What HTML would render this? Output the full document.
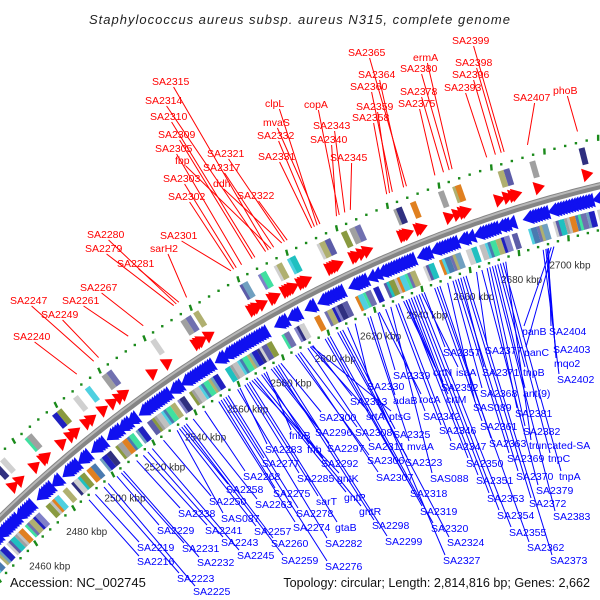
<!DOCTYPE html>
<html><head><meta charset="utf-8">
<style>
html,body{margin:0;padding:0;background:#fff;width:600px;height:600px;overflow:hidden;}
svg{display:block;overflow:hidden;}
text{font-family:"Liberation Sans",sans-serif;}
</style></head>
<body>
<svg id="map" width="600" height="600" viewBox="0 0 600 600" xmlns="http://www.w3.org/2000/svg">
<rect width="600" height="600" fill="#fff"/>
<text x="300" y="24" text-anchor="middle" font-size="13" font-style="italic" letter-spacing="1" fill="#222">Staphylococcus aureus subsp. aureus N315, complete genome</text>
<g id="rings"></g>
<g id="lines"></g>
<g id="labels"></g>
<text x="10" y="587" font-size="13" fill="#111">Accession: NC_002745</text>
<text x="590" y="587" text-anchor="end" font-size="12.6" fill="#111">Topology: circular; Length: 2,814,816 bp; Genes: 2,662</text>
</svg>
<script>
// ---- data ----
var kbpTicks = [2460,2480,2500,2520,2540,2560,2580,2600,2620,2640,2660,2680,2700];
var forwardGenes = [2200,2203,2210,2214,2215,2222,2226,2228,2233,2235,2240,2244,2247,2249,2261,2267,2279,2280,2281,2284,2301,2302,2303,2305,2309,2310,2314,2315,2316,2317,2320,2321,2322,2331,2332,2333,2334,2340,2341,2343,2345,2358,2359,2360,2364,2365,2375,2378,2380,2381,2393,2396,2398,2399,2407,2424];
var reverseGenes = [2171,2172,2173,2174,2175,2176,2177,2178,2180,2181,2182,2183,2185,2186,2187,2188,2189,2190,2191,2192,2194,2195,2196,2197,2198,2199,2204,2205,2206,2207,2208,2211,2212,2216,2217,2218,2219,2220,2223,2224,2225,2229,2230,2231,2232,2236,2237,2238,2239,2241,2242,2243,2245,2246,2250,2251,2252,2253,2254,2255,2256,2257,2258,2259,2260,2263,2264,2265,2268,2269,2270,2271,2272,2273,2274,2275,2276,2277,2278,2282,2283,2285,2286,2287,2288,2289,2290,2291,2292,2293,2294,2295,2296,2297,2298,2299,2300,2306,2307,2308,2311,2312,2313,2318,2319,2323,2324,2325,2326,2327,2328,2329,2330,2335,2336,2337,2338,2339,2342,2344,2346,2347,2348,2349,2350,2351,2352,2353,2354,2355,2356,2357,2361,2362,2363,2366,2367,2368,2369,2370,2371,2372,2373,2376,2377,2379,2382,2383,2384,2385,2386,2387,2388,2390,2391,2392,2394,2400,2401,2402,2403,2404,2405,2406,2409,2410,2411,2412,2413,2414,2415,2416,2417,2418,2419,2420,2421,2422,2425,2426,2427,2428,2429,2430,2431,2432,2433,2434,2435,2436,2437,2438];
var redNames = ["SA2399","SA2365","ermA","SA2398","SA2364","SA2380","SA2396","SA2360","SA2378","SA2393","SA2407","phoB","SA2375","SA2359","SA2358","copA","clpL","SA2343","SA2315","SA2314","mvaS","SA2332","SA2340","SA2310","SA2309","SA2305","SA2321","SA2331","SA2345","fbp","SA2317","ddh","SA2303","SA2302","SA2322","SA2280","SA2301","SA2279","sarH2","SA2281","SA2267","SA2247","SA2261","SA2249","SA2240"];
var redIdx = [2399,2365,2381,2398,2364,2380,2396,2360,2378,2393,2407,2424,2375,2359,2358,2341,2333,2343,2315,2314,2334,2332,2340,2310,2309,2305,2321,2331,2345,2316,2317,2320,2303,2302,2322,2280,2301,2279,2284,2281,2267,2247,2261,2249,2240];
var redLabelX = [452,348,413,455,358,400,452,350,400,444,513,553,398,356,352,304,265,313,152,145,263,257,310,150,158,155,207,258,330,175,203,213,163,168,237,87,160,85,150,117,80,10,62,41,13];
var redLabelY = [40,52,57,62,74,68,74,86,91,87,97,90,103,106,117,104,103,125,81,100,122,135,139,116,134,148,153,156,157,160,167,183,178,196,195,234,235,248,248,263,287,300,300,314,336];
var blueNames = ["panB","SA2404","panC","SA2403","mqo2","SA2402","SA2357","SA2377","SA2339","crtN","isaA","SA2371","tnpB","SA2330","SA2352","SA2368","ant(9)","SA2313","adaB","rocA","crtM","SAS089","SA2381","SA2300","srtA","ptsG","SA2342","SA2361","SA2382","SA2346","SA2296","SA2308","SA2325","SA2363","truncated-SA","fnbB","SA2283","fnb","SA2297","SA2311","mvaA","SA2347","SA2277","SA2292","SA2306","SA2323","SA2350","SA2369","tnpC","SA2268","SA2285","gntK","SA2307","SAS088","SA2351","SA2370","tnpA","SA2258","SA2275","sarT","gntP","SA2318","SA2353","SA2379","SA2372","SA2250","SA2263","SA2278","gntR","SA2319","SA2354","SA2383","SA2238","SAS087","SA2274","gtaB","SA2298","SA2320","SA2355","SA2229","SA2241","SA2257","SA2282","SA2299","SA2324","SA2362","SA2373","SA2219","SA2231","SA2243","SA2260","SA2216","SA2232","SA2245","SA2259","SA2276","SA2327","SA2223","SA2225"];
var blueIdx = [2405,2404,2406,2403,2403.5,2402,2357,2377,2339,2350,2356,2371,2385,2330,2352,2368,2384,2313,2336,2339.5,2349,2366,2381,2300,2312,2312.5,2342,2361,2382,2346,2296,2308,2325,2363,2388,2294,2283,2293,2297,2311,2335,2347,2277,2292,2306,2323,2350,2369,2386,2268,2285,2288,2307,2344,2351,2370,2387,2258,2275,2286,2289,2318,2353,2379,2372,2250,2263,2278,2290,2319,2354,2383,2238,2256,2274,2287,2298,2320,2355,2229,2241,2257,2282,2299,2324,2362,2373,2219,2231,2243,2260,2216,2232,2245,2259,2276,2327,2223,2225];
var blueLabelX = [522,549,524,553,554,557,443,485,393,433,456,482,523,367,441,480,523,350,393,419,446,473,515,319,366,389,423,480,523,439,315,355,393,489,529,289,265,307,327,368,407,449,262,321,367,405,466,507,548,243,297,337,376,430,476,516,559,226,273,316,344,410,487,536,529,209,255,296,359,420,497,553,178,221,293,335,372,431,509,157,205,254,325,385,447,527,550,137,182,221,271,137,197,237,281,325,443,177,193];
var blueLabelY = [331,331,352,349,363,379,352,350,375,372,372,372,372,386,387,393,393,401,400,399,399,407,413,417,416,416,416,426,431,430,432,432,434,443,445,435,449,449,448,446,446,446,463,463,460,462,463,458,458,476,478,478,477,478,480,476,476,489,493,501,497,493,498,490,503,501,504,513,511,511,515,516,513,518,527,527,525,528,532,530,530,531,543,541,542,547,560,547,548,542,543,561,562,555,560,566,560,578,591];

// ---- geometry ----
var CX = 901, CY = 1437;
function idxToKbp(i){ return 2515 + (i - 2240) * 1.09; }
function ang(k){ return (-134.34 + (k - 2460) * 0.11904) * Math.PI / 180; }
function pt(k, r){ var a = ang(k); return [CX + r * Math.cos(a), CY + r * Math.sin(a)]; }
var NS = "http://www.w3.org/2000/svg";
function mk(tag, parent, attrs){ var e = document.createElementNS(NS, tag); for (var k in attrs) e.setAttribute(k, attrs[k]); parent.appendChild(e); return e; }
function poly(pts){ return pts.map(function(p){ return p[0].toFixed(1) + "," + p[1].toFixed(1); }).join(" "); }

var rings = document.getElementById("rings");
var linesG = document.getElementById("lines");
var labelsG = document.getElementById("labels");
var palette = ["#4fd0e0","#a0a0a0","#5c5ca8","#8080c8","#b0b070","#4a7ab0","#c0c0c0","#20c0c0","#303080","#70a0c0","#40e0a0","#e08020","#8a9a40","#d0d0d0","#2020c0","#7070b0"];

// dotted rings
[1334, 1244].forEach(function(r){
  for (var k = 2402; k <= 2780; k += 4) {
    var isDash = (k - 2402) % 20 === 0;
    if (isDash) {
      var a = pt(k, r - 3), b = pt(k + 0.5, r + 3);
      var d = mk("line", rings, {x1:a[0], y1:a[1], x2:b[0], y2:b[1], stroke:"#1a8a1a", "stroke-width":2.4});
      
      
    } else {
      var p = pt(k, r);
      var c = mk("rect", rings, {x:p[0]-1.2, y:p[1]-1.2, width:2.4, height:2.4, fill:"#1a8a1a"});
      
      
    }
  }
});

// backbone
(function(){
  var d = "";
  for (var k = 2380; k <= 2800; k += 2) { var p = pt(k, 1287); d += (k === 2380 ? "M" : "L") + p[0].toFixed(1) + "," + p[1].toFixed(1); }
  var bb = mk("path", rings, {d:d, fill:"none", stroke:"#858585", "stroke-width":7});
  
  
  var d2 = "";
  for (var k2 = 2380; k2 <= 2800; k2 += 2) { var q = pt(k2, 1288.5); d2 += (k2 === 2380 ? "M" : "L") + q[0].toFixed(1) + "," + q[1].toFixed(1); }
  var hl = mk("path", rings, {d:d2, fill:"none", stroke:"#b8b8b8", "stroke-width":2});
  
  
})();

// forward genes: red arrows + boxes
forwardGenes.forEach(function(i, n){
  var k = idxToKbp(i);
  var a = poly([pt(k-2, 1294), pt(k-2, 1308), pt(k+2, 1301)]);
  var ar = mk("polygon", rings, {points:a, fill:"#ff0000"});
  
  
  if (n % 3 !== 2) {
    var b = poly([pt(k-1.1, 1311), pt(k+1.1, 1311), pt(k+1.1, 1328), pt(k-1.1, 1328)]);
    var bx = mk("polygon", rings, {points:b, fill:palette[(i*7) % palette.length]});
    
    
  }
});

// reverse genes: blue arrows + boxes
reverseGenes.forEach(function(i, n){
  var k = idxToKbp(i);
  var a = poly([pt(k+2, 1267), pt(k+2, 1282), pt(k-2, 1274.5)]);
  var ar = mk("polygon", rings, {points:a, fill:"#1010f0"});
  
  
  if (n % 4 !== 3) {
    var b = poly([pt(k-1.1, 1248), pt(k+1.1, 1248), pt(k+1.1, 1264), pt(k-1.1, 1264)]);
    var bx = mk("polygon", rings, {points:b, fill:palette[(i*5) % palette.length]});
    
    
  }
});

// kbp labels
kbpTicks.forEach(function(k){
  var p = pt(k, 1218);
  var t = mk("text", rings, {x:p[0], y:p[1]+3.5, "text-anchor":"middle", "font-size":10, fill:"#333"});
  t.textContent = k + " kbp";
  
  
});

// red labels + lines
redNames.forEach(function(nm, j){
  var k = idxToKbp(redIdx[j]);
  var e = pt(k, 1345);
  var x = redLabelX[j], y = redLabelY[j];
  var w = nm.length * 6;
  var ln = mk("line", linesG, {x1:x + w*0.6, y1:y+6, x2:e[0], y2:e[1], stroke:"#ff0000", "stroke-width":1});
  
  
  var t = mk("text", labelsG, {x:x, y:y+4, "font-size":10.5, fill:"#ff0000"});
  t.textContent = nm;
  
  
});

// blue labels + lines
blueNames.forEach(function(nm, j){
  var k = idxToKbp(blueIdx[j]);
  var e = pt(k, 1240);
  var x = blueLabelX[j], y = blueLabelY[j];
  var ln = mk("line", linesG, {x1:e[0], y1:e[1], x2:x+2, y2:y-5, stroke:"#0000ff", "stroke-width":1});
  
  
  var t = mk("text", labelsG, {x:x, y:y+4, "font-size":10.5, fill:"#0000ff"});
  t.textContent = nm;
  
  
});
</script>
</body></html>
